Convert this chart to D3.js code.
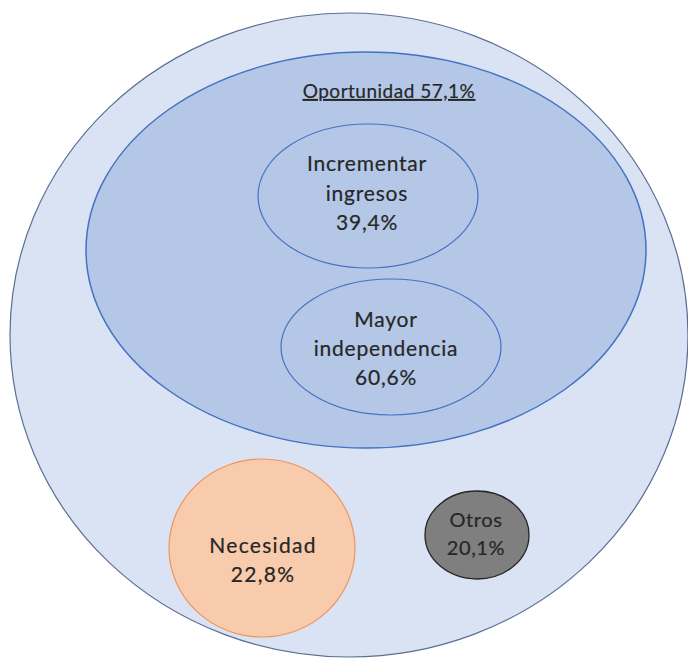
<!DOCTYPE html>
<html>
<head>
<meta charset="utf-8">
<script src="https://cdn.jsdelivr.net/npm/d3@7"></script>
<style>
  body { margin: 0; background: #fff; }
  svg { display: block; }
  text { font-family: Lato, "Open Sans", sans-serif; fill: #262626; stroke: #262626; stroke-width: 0.2; }
</style>
</head>
<body>
<div id="chart"></div>
<script>
// categories and shares (%)
const groups = ['Total', 'Oportunidad', 'Incrementar ingresos', 'Mayor independencia', 'Necesidad', 'Otros']
const values = [null, 57.1, 39.4, 60.6, 22.8, 20.1]
const lines = [[], ['Oportunidad'], ['Incrementar', 'ingresos'], ['Mayor', 'independencia'], ['Necesidad'], ['Otros']]

// layout of the bubbles, in design units (688 x 659)
const layout = [
  {cx: 349, cy: 335, rx: 339, ry: 322},
  {cx: 366, cy: 250, rx: 280, ry: 198},
  {cx: 368, cy: 196, rx: 110, ry: 72},
  {cx: 391, cy: 347, rx: 110, ry: 68},
  {cx: 262, cy: 548, rx: 93, ry: 89},
  {cx: 477, cy: 535, rx: 52, ry: 44}
]
const styles = [
  {fill: '#dae3f3', stroke: '#5b6f95', sw: 1.2},
  {fill: '#b4c7e7', stroke: '#4472c4', sw: 1.5},
  {fill: '#b4c7e7', stroke: '#4472c4', sw: 1.2},
  {fill: '#b4c7e7', stroke: '#4472c4', sw: 1.2},
  {fill: '#f8cbad', stroke: '#f0945c', sw: 1.2},
  {fill: '#7f7f7f', stroke: '#262626', sw: 1.3}
]

const width = 688, height = 659
const es = d3.formatLocale({decimal: ',', thousands: '.', grouping: [3], currency: ['', '€']})
const pct = v => es.format('.1f')(v) + '%'

const x = d3.scaleLinear().domain([0, 688]).range([0, width])
const y = d3.scaleLinear().domain([0, 659]).range([0, height])
const r = d3.scaleLinear().domain([0, 688]).range([0, width])

const svg = d3.select('#chart').append('svg')
  .attr('width', width)
  .attr('height', height)

const nodes = groups.map((g, i) => ({name: g, value: values[i], lines: lines[i], ...layout[i], ...styles[i]}))

svg.selectAll('ellipse')
  .data(nodes)
  .join('ellipse')
  .attr('cx', d => x(d.cx))
  .attr('cy', d => y(d.cy))
  .attr('rx', d => r(d.rx))
  .attr('ry', d => r(d.ry))
  .attr('fill', d => d.fill)
  .attr('stroke', d => d.stroke)
  .attr('stroke-width', d => d.sw)

// title of the big inner bubble, underlined
svg.append('text')
  .attr('x', x(389))
  .attr('y', y(98))
  .attr('text-anchor', 'middle')
  .attr('font-size', 19)
  .attr('letter-spacing', 0.5)
  .attr('text-decoration', 'underline')
  .text(`${groups[1]} ${pct(values[1])}`)

// labels inside the other bubbles
const labelPos = [null, null,
  {x: 367, y: 171, dy: 29.5, fs: 21, ls: 0.8},
  {x: 386, y: 327, dy: 29, fs: 21, ls: 0.8},
  {x: 263, y: 553, dy: 29, fs: 21, ls: 1.3},
  {x: 476, y: 527, dy: 28, fs: 20, ls: 0.6}
]

nodes.forEach((d, i) => {
  const p = labelPos[i]
  if (!p) return
  const t = svg.append('text')
    .attr('text-anchor', 'middle')
    .attr('font-size', p.fs)
    .attr('letter-spacing', p.ls)
  d.lines.concat([pct(d.value)]).forEach((s, k) => {
    t.append('tspan')
      .attr('x', x(p.x))
      .attr('y', y(p.y + k * p.dy))
      .text(s)
  })
})
</script>
</body>
</html>
